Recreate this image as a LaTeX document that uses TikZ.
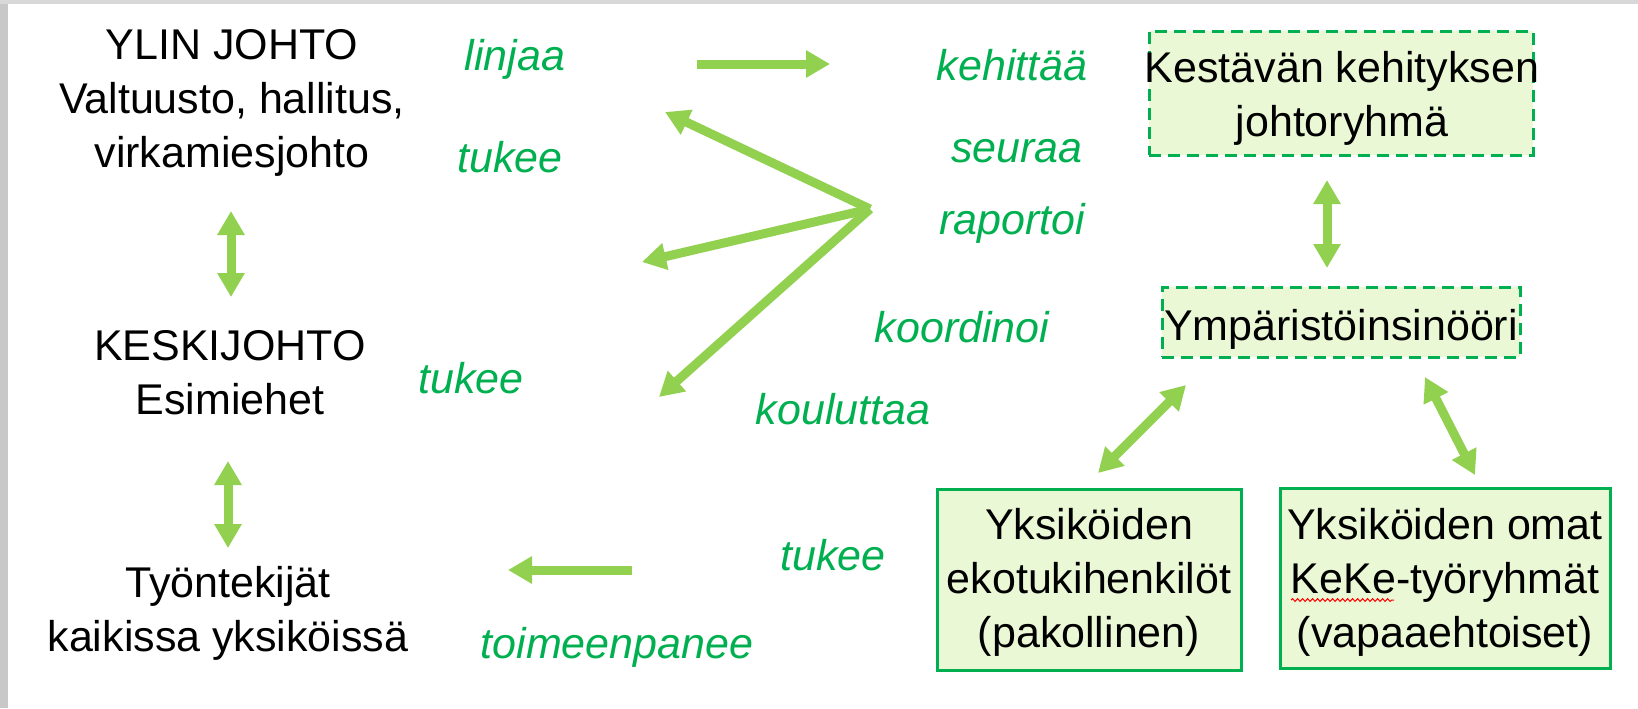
\documentclass[tikz,border=0pt]{standalone}
\usepackage{fontspec}
\setmainfont{Liberation Sans}
\usetikzlibrary{arrows.meta,decorations.pathmorphing}
\definecolor{arrowgreen}{RGB}{146,208,80}
\definecolor{txtgreen}{RGB}{0,176,80}
\definecolor{boxfill}{RGB}{235,248,214}
\definecolor{edgegray}{RGB}{200,200,200}
\begin{document}
\begin{tikzpicture}[x=0.5pt,y=-0.5pt,
  lbl/.style={font=\fontsize{21.5pt}{27pt}\selectfont, align=center, inner sep=0},
  verb/.style={font=\fontsize{21.5pt}{27pt}\selectfont\itshape, text=txtgreen, inner sep=0, anchor=base},
  arr/.style={draw=arrowgreen, line width=4.5pt, -{Triangle[length=12pt,width=13pt]}},
  dblarr/.style={draw=arrowgreen, line width=4.5pt, {Triangle[length=12pt,width=13pt]}-{Triangle[length=12pt,width=13pt]}},
  dashbox/.style={draw=txtgreen, fill=boxfill, line width=1.5pt, dash pattern=on 6pt off 3.5pt, inner sep=0},
  solidbox/.style={draw=txtgreen, fill=boxfill, line width=1.5pt, inner sep=0},
  spell/.style={draw=red, line width=0.5pt, decorate, decoration={snake, amplitude=0.7pt, segment length=2.5pt}}
]
\useasboundingbox (0,0) rectangle (1638,708);
\fill[white] (0,0) rectangle (1638,708);
\fill[edgegray] (0,0) rectangle (8,708);
\fill[edgegray!70] (0,0) rectangle (1638,4);

% left column
\node[lbl] (ylin) at (232,103) {YLIN JOHTO\\Valtuusto, hallitus,\\virkamiesjohto};
\node[lbl] (keski) at (230,372.5) {KESKIJOHTO\\Esimiehet};
\node[lbl] (tyont) at (228,613) {Työntekijät\\kaikissa yksiköissä};

% right boxes
\node[dashbox, minimum width=192pt, minimum height=62pt] (kest) at (1341,93) {};
\node[lbl] (kestT) at (1342,98.5) {Kestävän kehityksen\\johtoryhmä};
\node[dashbox, minimum width=179pt, minimum height=35pt] (ymp) at (1341,322) {};
\node[lbl, anchor=base] (ympT) at (1341,340) {Ympäristöinsinööri};
\node[solidbox, minimum width=152pt, minimum height=90.5pt] (eko) at (1089,579.5) {};
\node[lbl] (ekoT) at (1089,582.5) {Yksiköiden\\ekotukihenkilöt\\(pakollinen)};
\node[solidbox, minimum width=165pt, minimum height=90pt] (keke) at (1445,578) {};
\node[lbl] (kekeT) at (1445,582.5) {Yksiköiden omat\\KeKe-työryhmät\\(vapaaehtoiset)};
\coordinate (sp1) at (1291,600);
\coordinate (sp2) at (1394,600);
\draw[spell] (sp1) -- (sp2);

% verbs
\node[verb] (linjaa) at (515,70) {linjaa};
\node[verb] (tukee1) at (510,172) {tukee};
\node[verb] (tukee2) at (471,393) {tukee};
\node[verb] (kehittaa) at (1012,80) {kehittää};
\node[verb] (seuraa) at (1017,162) {seuraa};
\node[verb] (raportoi) at (1012,234) {raportoi};
\node[verb] (koordinoi) at (962,342) {koordinoi};
\node[verb] (kouluttaa) at (843,424) {kouluttaa};
\node[verb] (tukee3) at (833,570) {tukee};
\node[verb] (toimeen) at (617,658) {toimeenpanee};

% arrow end points
\coordinate (a1s) at (231,211);
\coordinate (a1e) at (231,297);
\coordinate (a2s) at (228,461);
\coordinate (a2e) at (228,548);
\coordinate (ls) at (697,64);
\coordinate (le) at (830,64);
\coordinate (hub) at (870,209);
\coordinate (t1) at (665,112);
\coordinate (t2) at (642,262);
\coordinate (t3) at (659,397);
\coordinate (bs) at (632,570);
\coordinate (be) at (508,570);
\coordinate (r1s) at (1327,180);
\coordinate (r1e) at (1327,268);
\coordinate (d1s) at (1098,473);
\coordinate (d1e) at (1186,385);
\coordinate (d2s) at (1425,377);
\coordinate (d2e) at (1475,475);

\draw[dblarr] (a1s) -- (a1e);
\draw[dblarr] (a2s) -- (a2e);
\draw[arr] (ls) -- (le);
\draw[arr] (hub) -- (t1);
\draw[arr] (hub) -- (t2);
\draw[arr] (hub) -- (t3);
\draw[arr] (bs) -- (be);
\draw[dblarr] (r1s) -- (r1e);
\draw[dblarr] (d1s) -- (d1e);
\draw[dblarr] (d2s) -- (d2e);
\end{tikzpicture}
\end{document}
